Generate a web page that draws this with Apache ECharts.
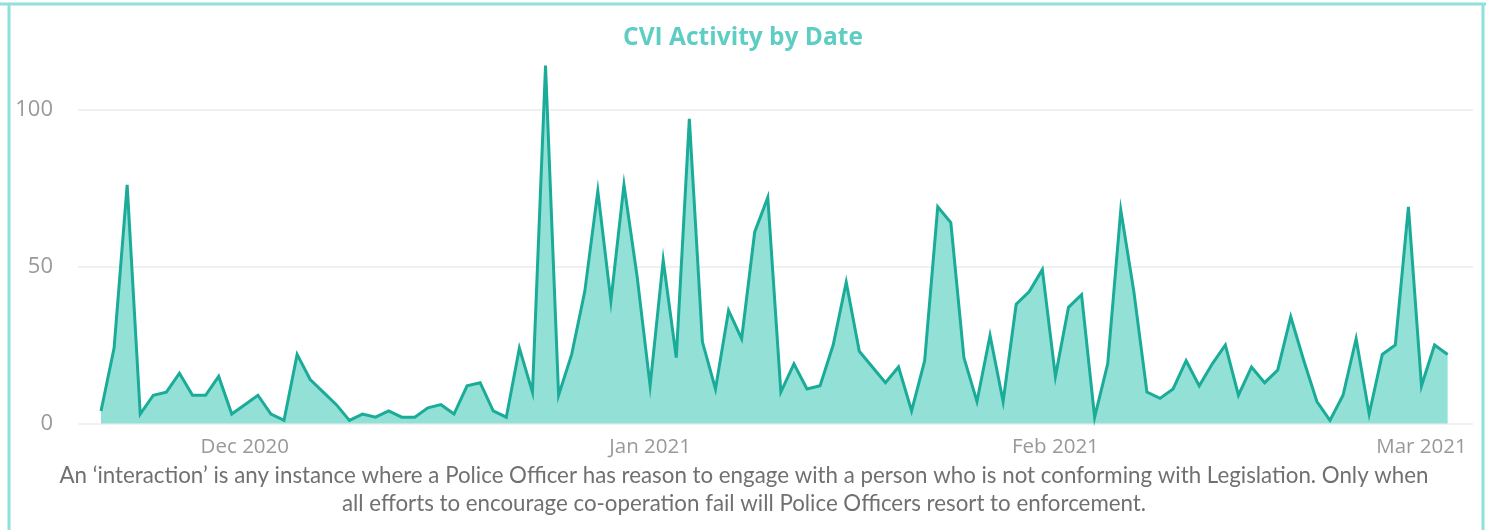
<!DOCTYPE html>
<html><head><meta charset="utf-8">
<script src="https://cdn.jsdelivr.net/npm/echarts@6/dist/echarts.min.js"></script>
<style>html,body{margin:0;padding:0;background:#fff}#c{width:1486px;height:530px}</style>
</head><body><div id="c"></div>
<script>
const dates = [
 '2020-11-20','2020-11-21','2020-11-22','2020-11-23','2020-11-24','2020-11-25','2020-11-26','2020-11-27','2020-11-28','2020-11-29','2020-11-30',
 '2020-12-01','2020-12-02','2020-12-03','2020-12-04','2020-12-05','2020-12-06','2020-12-07','2020-12-08','2020-12-09','2020-12-10',
 '2020-12-11','2020-12-12','2020-12-13','2020-12-14','2020-12-15','2020-12-16','2020-12-17','2020-12-18','2020-12-19','2020-12-20',
 '2020-12-21','2020-12-22','2020-12-23','2020-12-24','2020-12-25','2020-12-26','2020-12-27','2020-12-28','2020-12-29','2020-12-30','2020-12-31',
 '2021-01-01','2021-01-02','2021-01-03','2021-01-04','2021-01-05','2021-01-06','2021-01-07','2021-01-08','2021-01-09','2021-01-10',
 '2021-01-11','2021-01-12','2021-01-13','2021-01-14','2021-01-15','2021-01-16','2021-01-17','2021-01-18','2021-01-19','2021-01-20',
 '2021-01-21','2021-01-22','2021-01-23','2021-01-24','2021-01-25','2021-01-26','2021-01-27','2021-01-28','2021-01-29','2021-01-30','2021-01-31',
 '2021-02-01','2021-02-02','2021-02-03','2021-02-04','2021-02-05','2021-02-06','2021-02-07','2021-02-08','2021-02-09','2021-02-10',
 '2021-02-11','2021-02-12','2021-02-13','2021-02-14','2021-02-15','2021-02-16','2021-02-17','2021-02-18','2021-02-19','2021-02-20',
 '2021-02-21','2021-02-22','2021-02-23','2021-02-24','2021-02-25','2021-02-26','2021-02-27','2021-02-28',
 '2021-03-01','2021-03-02','2021-03-03'
];
const values = [
 4,24,76,3,9,10,16,9,9,15,
 3,6,9,3,1,22,14,10,6,1,
 3,2,4,2,2,5,6,3,12,13,
 4,2,24,10,114,9,22,42,74,39,
 76,47,12,52,21,97,26,11,36,27,
 61,72,10,19,11,12,25,45,23,18,
 13,18,4,20,69,64,21,7,28,7,
 38,42,49,15,37,41,2,19,68,42,
 10,8,11,20,12,19,25,9,18,13,
 17,34,20,7,1,9,27,3,22,25,
 69,12,25,22
];
const yTickValues = [0, 50, 100];
const xTickDates = ['2020-12-01','2021-01-01','2021-02-01','2021-03-01'];
const xTickLabels = ['Dec 2020','Jan 2021','Feb 2021','Mar 2021'];
const titleText = 'CVI Activity by Date';
const footerText = 'An \u2018interaction\u2019 is any instance where a Police Officer has reason to engage with a person who is not conforming with Legislation. Only when\nall efforts to encourage co-operation fail will Police Officers resort to enforcement.';

function parseLocal(s){ const p = s.split('-').map(Number); return new Date(p[0], p[1]-1, p[2]).getTime(); }
const DAY = 86400000;
const xMin = parseLocal(dates[0]) - 1.76*DAY;
const xMax = parseLocal(dates[dates.length-1]) + 1.94*DAY;
const labelByTime = {};
xTickDates.forEach((d,i)=>{ labelByTime[parseLocal(d)] = xTickLabels[i]; });

const chart = echarts.init(document.getElementById('c'), null, {renderer:'canvas'});
chart.setOption({
  animation:false,
  backgroundColor:'#ffffff',
  title:{
    text:titleText, left:'center', top:21,
    textStyle:{fontFamily:'Open Sans', fontSize:24.5, fontWeight:'bold', color:'#5ecdc3'}
  },
  grid:{left:78, right:13, top:109.5, bottom:106.5, containLabel:false},
  xAxis:{
    type:'time', min:xMin, max:xMax, minInterval:28*DAY,
    axisLine:{show:false}, axisTick:{show:false}, splitLine:{show:false},
    axisLabel:{
      fontFamily:'Open Sans', fontSize:20.5, color:'#999', margin:13,
      showMinLabel:true, showMaxLabel:true,
      formatter:function(v){ const d=new Date(v); const t=new Date(d.getFullYear(),d.getMonth(),d.getDate()).getTime(); return labelByTime[t] || ''; }
    }
  },
  yAxis:{
    type:'value', min:yTickValues[0], max:yTickValues[yTickValues.length-1], interval:50,
    axisLine:{show:false}, axisTick:{show:false},
    splitLine:{lineStyle:{color:'#ebebeb', width:1.5}},
    axisLabel:{fontFamily:'Open Sans', fontSize:22, color:'#999', margin:25}
  },
  series:[{
    type:'line', clip:false, showSymbol:false, symbol:'none',
    data: dates.map((d,i)=>[d, values[i]]),
    lineStyle:{color:'#1aac99', width:3, join:'miter'},
    areaStyle:{color:'#93e0d6', opacity:1}
  }],
  graphic:[
    {type:'line', shape:{x1:0,y1:4,x2:1486,y2:4}, style:{stroke:'#8fe2d9', lineWidth:3}, z:100},
    {type:'line', shape:{x1:9,y1:4,x2:9,y2:530}, style:{stroke:'#8fe2d9', lineWidth:3}, z:100},
    {type:'line', shape:{x1:1483,y1:4,x2:1483,y2:530}, style:{stroke:'#8fe2d9', lineWidth:3}, z:100},
    {type:'text', x:744, y:490, z:100,
     style:{text:footerText, align:'center', verticalAlign:'middle', fontFamily:'Lato', fontSize:22.3, lineHeight:28, fill:'#707070'}}
  ]
});
</script></body></html>
